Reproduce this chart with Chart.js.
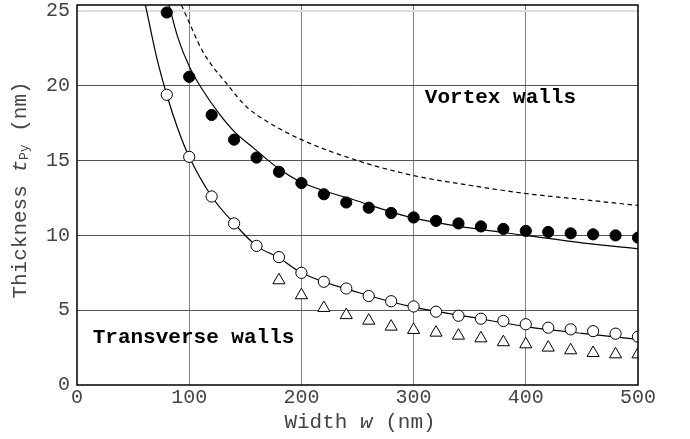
<!DOCTYPE html>
<html>
<head>
<meta charset="utf-8">
<script src="https://cdn.jsdelivr.net/npm/chart.js@4/dist/chart.umd.min.js"></script>
<style>
  html, body { margin: 0; padding: 0; background: #fff; }
  #wrap { width: 690px; height: 439px; }
</style>
</head>
<body>
<div id="wrap"><canvas id="chart" width="690" height="439"></canvas></div>
<script>
// ─── Data ─────────────────────────────────────────────────────
const xTicks = [0, 100, 200, 300, 400, 500];
const yTicks = [0, 5, 10, 15, 20, 25];

// simulated points, w = 80..500 nm
const pointWidths = [80, 100, 120, 140, 160, 180, 200, 220, 240, 260, 280,
                     300, 320, 340, 360, 380, 400, 420, 440, 460, 480, 500];
const vortexPoints = [24.9, 20.6, 18.05, 16.4, 15.2, 14.25, 13.5, 12.75, 12.2, 11.85, 11.5,
                      11.2, 10.97, 10.8, 10.6, 10.43, 10.3, 10.23, 10.14, 10.07, 10.0, 9.85];
const transversePoints = [19.4, 15.25, 12.6, 10.8, 9.3, 8.55, 7.5, 6.9, 6.45, 5.95, 5.6,
                          5.25, 4.9, 4.63, 4.43, 4.28, 4.06, 3.83, 3.72, 3.6, 3.43, 3.23];

// triangles start at 180 nm
const triangleWidths = [180, 200, 220, 240, 260, 280, 300, 320, 340, 360,
                        380, 400, 420, 440, 460, 480, 500];
const trianglePoints = [7.0, 6.0, 5.15, 4.67, 4.3, 3.9, 3.68, 3.5, 3.3, 3.12,
                        2.86, 2.72, 2.5, 2.32, 2.14, 2.05, 2.05];

// model curves
const vortexCurveW = [82, 90, 100, 110, 127, 140, 158, 180, 200, 250, 300, 350, 400, 450, 500];
const vortexCurveT = [25.4, 23.2, 21.3, 19.95, 18.1, 16.95, 15.8, 14.45, 13.55, 12.3, 11.15, 10.5, 10.0, 9.5, 9.1];

const transverseCurveW = [61, 71, 80, 90, 100, 120, 140, 160, 180, 200, 250, 300, 350, 400, 450, 500];
const transverseCurveT = [25.4, 21.9, 19.4, 17.1, 15.25, 12.6, 10.8, 9.3, 8.5, 7.5, 6.2, 5.2, 4.55, 3.9, 3.45, 3.05];

const dashedCurveW = [93, 99, 112, 135, 151, 172, 200, 250, 300, 350, 400, 450, 500];
const dashedCurveT = [25.4, 24.4, 22.3, 20.0, 18.6, 17.5, 16.4, 15.0, 14.0, 13.35, 12.8, 12.4, 12.0];

// ─── Helpers ──────────────────────────────────────────────────
const MONO = "'Liberation Mono', 'Courier New', monospace";

function toXY(xs, ys) {
  return xs.map((x, i) => ({ x: x, y: ys[i] }));
}

function curve(xs, ys, dash) {
  return {
    type: 'line',
    data: toXY(xs, ys),
    borderColor: '#000',
    borderWidth: 1.2,
    borderDash: dash || [],
    pointRadius: 0,
    fill: false,
    cubicInterpolationMode: 'monotone',
    order: 2
  };
}

function markers(xs, ys, style, fill, radius) {
  return {
    type: 'scatter',
    data: toXY(xs, ys),
    pointStyle: style,
    pointRadius: radius,
    pointBackgroundColor: fill,
    pointBorderColor: '#000',
    pointBorderWidth: 1,
    order: 1
  };
}

// ─── Frame, labels and axis titles ────────────────────────────
const decorPlugin = {
  id: 'decor',
  afterDraw(chart) {
    const ctx = chart.ctx;
    const a = chart.chartArea;
    const xs = chart.scales.x;
    const ys = chart.scales.y;

    ctx.save();
    ctx.strokeStyle = '#000';
    ctx.lineWidth = 1.5;
    ctx.strokeRect(a.left, a.top, a.right - a.left, a.bottom - a.top);

    // in-plot labels
    ctx.fillStyle = '#000';
    ctx.font = 'bold 21px ' + MONO;
    ctx.textBaseline = 'middle';
    ctx.textAlign = 'left';
    ctx.fillText('Vortex walls', xs.getPixelForValue(310), ys.getPixelForValue(19.2));
    ctx.fillText('Transverse walls', xs.getPixelForValue(14), ys.getPixelForValue(3.15));

    // x title: Width w (nm)
    ctx.fillStyle = '#444';
    drawRuns(ctx, [
      { text: 'Width ', font: '21px ' + MONO, dy: 0 },
      { text: 'w', font: 'italic 21px ' + MONO, dy: 0 },
      { text: ' (nm)', font: '21px ' + MONO, dy: 0 }
    ], 360, 422);

    // y title: Thickness t_Py (nm), rotated
    ctx.translate(20, 190);
    ctx.rotate(-Math.PI / 2);
    drawRuns(ctx, [
      { text: 'Thickness ', font: '21px ' + MONO, dy: 0 },
      { text: 't', font: 'italic 21px ' + MONO, dy: 0 },
      { text: 'Py', font: '13px ' + MONO, dy: 5 },
      { text: ' (nm)', font: '21px ' + MONO, dy: 0 }
    ], 0, 0);
    ctx.restore();
  }
};

// draws text pieces side by side, centred on (cx, cy)
function drawRuns(ctx, runs, cx, cy) {
  let total = 0;
  runs.forEach(r => { ctx.font = r.font; r.w = ctx.measureText(r.text).width; total += r.w; });
  let x = cx - total / 2;
  ctx.textAlign = 'left';
  ctx.textBaseline = 'middle';
  runs.forEach(r => {
    ctx.font = r.font;
    ctx.fillText(r.text, x, cy + r.dy);
    x += r.w;
  });
}

// ─── Chart ────────────────────────────────────────────────────
const ctx = document.getElementById('chart');

new Chart(ctx, {
  type: 'scatter',
  data: {
    datasets: [
      curve(dashedCurveW, dashedCurveT, [4.5, 3.5]),
      curve(vortexCurveW, vortexCurveT),
      curve(transverseCurveW, transverseCurveT),
      markers(pointWidths, vortexPoints, 'circle', '#000', 5.6),
      markers(pointWidths, transversePoints, 'circle', '#fff', 5.6),
      markers(triangleWidths, trianglePoints, 'triangle', '#fff', 7)
    ]
  },
  options: {
    responsive: false,
    animation: false,
    events: [],
    layout: {
      autoPadding: false,
      padding: { top: 5, right: 52, left: 0, bottom: 0 }
    },
    plugins: {
      legend: { display: false },
      tooltip: { enabled: false }
    },
    scales: {
      x: {
        type: 'linear',
        min: 0,
        max: 500,
        afterFit: s => { s.height = 54; s.paddingLeft = 0; s.paddingRight = 0; },
        afterBuildTicks: s => { s.ticks = xTicks.map(v => ({ value: v })); },
        border: { display: false },
        grid: {
          drawTicks: false,
          lineWidth: 1,
          color: c => (c.tick && (c.tick.value === 0 || c.tick.value === 500)) ? 'rgba(0,0,0,0)' : '#808080'
        },
        ticks: {
          padding: 1,
          color: '#444',
          font: { family: MONO, size: 20 },
          maxRotation: 0
        }
      },
      y: {
        type: 'linear',
        min: 0,
        max: 25.4,
        afterFit: s => { s.width = 77; s.paddingTop = 0; s.paddingBottom = 0; },
        afterBuildTicks: s => { s.ticks = yTicks.map(v => ({ value: v })); },
        border: { display: false },
        grid: {
          drawTicks: false,
          lineWidth: c => (c.tick && c.tick.value === 25) ? 2 : 1,
          color: c => {
            if (!c.tick) return '#555';
            if (c.tick.value === 0) return 'rgba(0,0,0,0)';
            if (c.tick.value === 25) return '#d3def5';
            return '#555';
          }
        },
        ticks: {
          padding: 7,
          color: '#444',
          font: { family: MONO, size: 20 }
        }
      }
    }
  },
  plugins: [decorPlugin]
});
</script>
</body>
</html>
